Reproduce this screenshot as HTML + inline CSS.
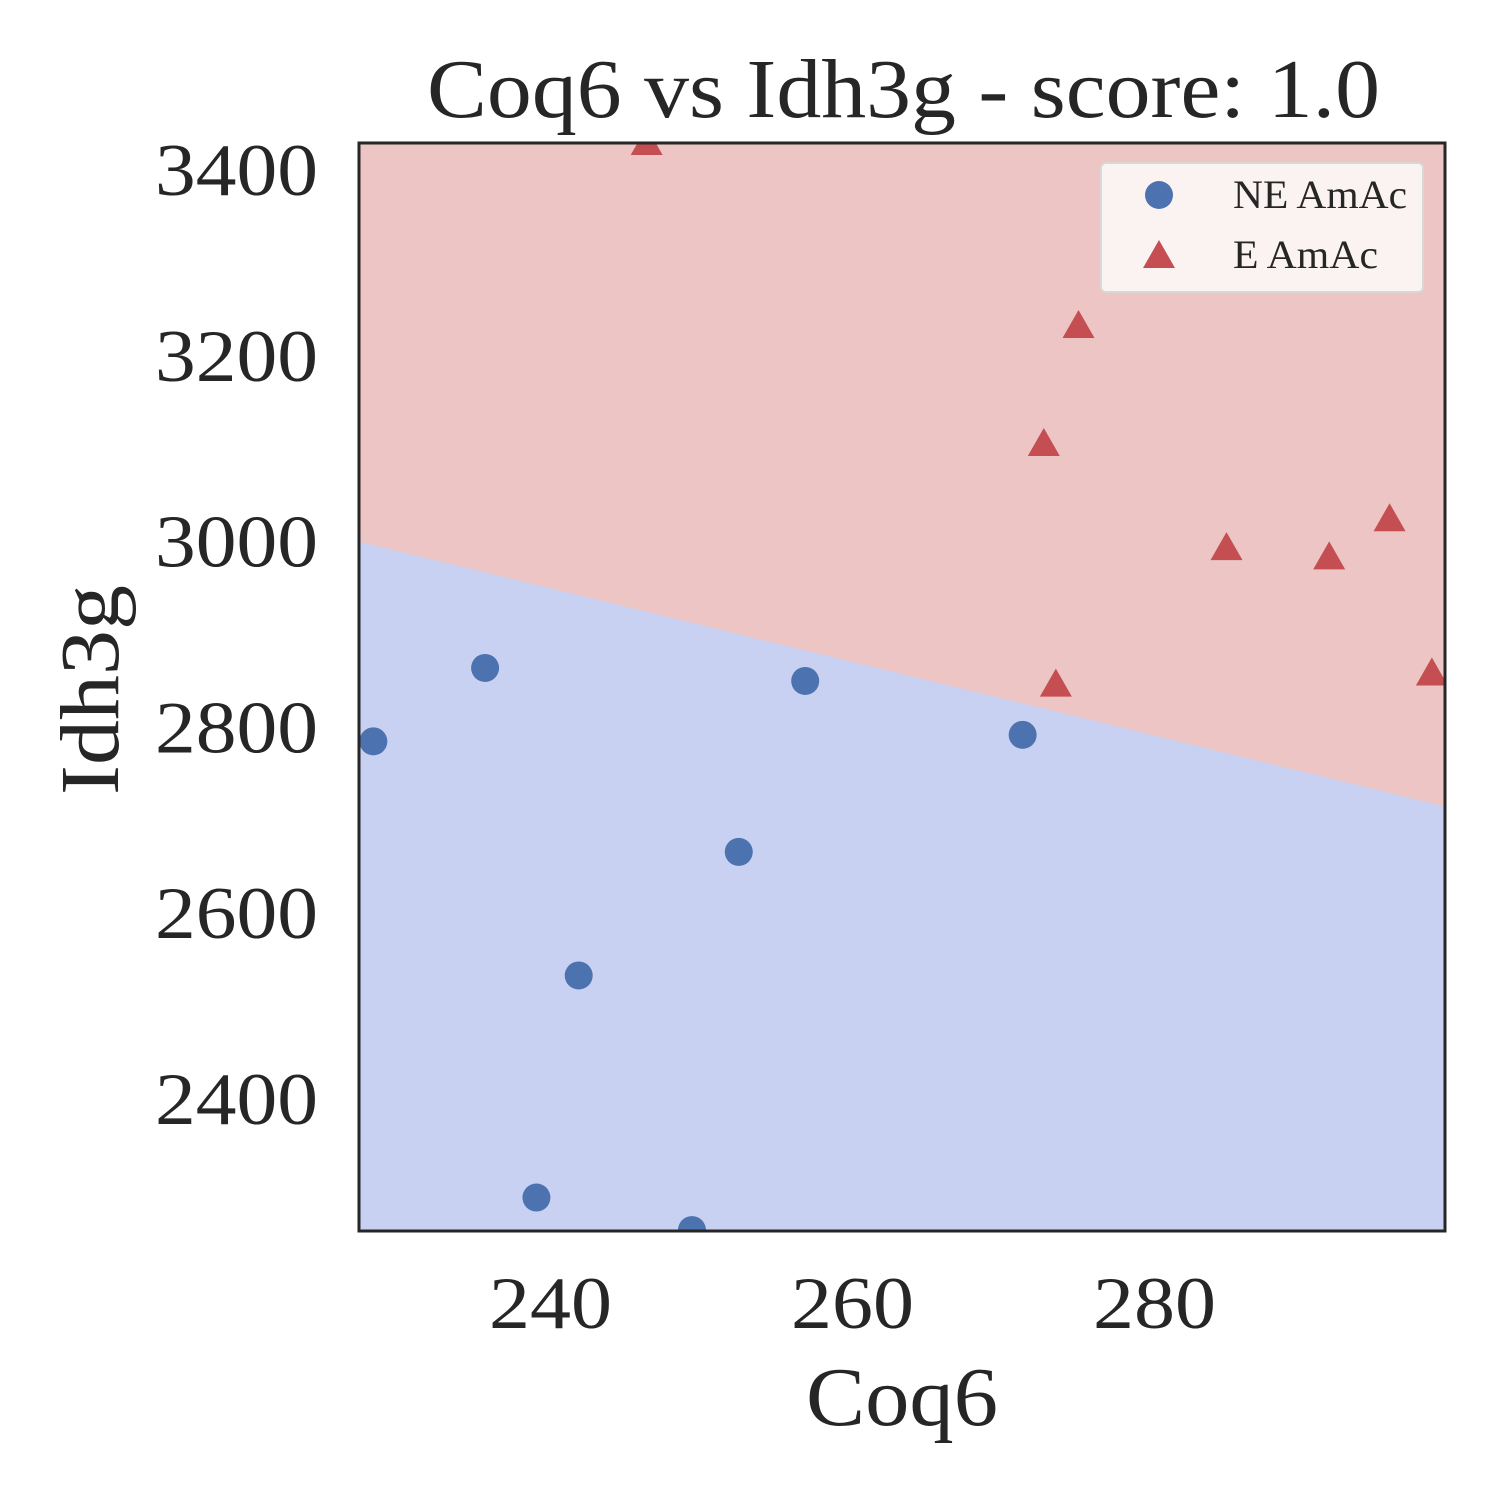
<!DOCTYPE html>
<html><head><meta charset="utf-8"><style>
html,body{margin:0;padding:0;background:#fff;}
svg text{font-family:"Liberation Serif","DejaVu Serif",serif;fill:#262626;}
</style></head><body>
<svg id="chart" width="1500" height="1500" viewBox="0 0 1500 1500" xmlns="http://www.w3.org/2000/svg"></svg>
<script>
const xTicks=[240,260,280];
const yTicks=[2400,2600,2800,3000,3200,3400];
const neX=[228.3,235.7,256.9,271.3,252.5,241.9,239.1,249.4];
const neY=[2785,2864,2850,2792,2666,2533,2294,2259];
const eX=[246.4,275.0,272.7,284.8,291.6,295.6,273.5,298.4];
const eY=[3429,3232,3105,2993,2983,3024,2846,2858];
const boundaryX=[227.35,299.27];
const boundaryY=[3000,2715];
const xDomain=[227.35,299.27], yDomain=[2258,3429];
const L=359,R=1445,T=143,B=1231;
const sx=v=>L+(v-xDomain[0])/(xDomain[1]-xDomain[0])*(R-L);
const sy=v=>B-(v-yDomain[0])/(yDomain[1]-yDomain[0])*(B-T);
const svg=document.getElementById('chart');
const NS='http://www.w3.org/2000/svg';
function mk(tag,attrs,parent){const e=document.createElementNS(NS,tag);for(const k in attrs)e.setAttribute(k,attrs[k]);(parent||svg).appendChild(e);return e;}
const clip=mk('clipPath',{id:'pc'});mk('rect',{x:L,y:T,width:R-L,height:B-T},clip);
const g=mk('g',{'clip-path':'url(#pc)'});
let e=mk('rect',{x:L,y:T,width:R-L,height:B-T,fill:'#ecc5c4'},g);


e=mk('polygon',{points:`${sx(boundaryX[0])},${sy(boundaryY[0])} ${sx(boundaryX[1])},${sy(boundaryY[1])} ${R},${B} ${L},${B}`,fill:'#c8d1f1'},g);


for(let i=0;i<neX.length;i++){
 e=mk('circle',{cx:sx(neX[i]),cy:sy(neY[i]),r:14,fill:'#4c72b0'},g);
 
 
}
for(let i=0;i<eX.length;i++){
 const x=sx(eX[i]),y=sy(eY[i]);
 e=mk('polygon',{points:`${x},${y-16} ${x-16},${y+12} ${x+16},${y+12}`,fill:'#c44e52'},g);
 
 
}
e=mk('rect',{x:L,y:T,width:R-L,height:B-T,fill:'none',stroke:'#262626','stroke-width':3});


xTicks.forEach(t=>{e=mk('text',{x:sx(t)-61,y:1328,'font-size':74,textLength:123,lengthAdjust:'spacingAndGlyphs'});e.textContent=t;
 
 });
yTicks.forEach(t=>{e=mk('text',{x:155,y:sy(t)+25,'font-size':74,textLength:163,lengthAdjust:'spacingAndGlyphs'});e.textContent=t;
 
 });
e=mk('text',{x:806,y:1425,'font-size':84,textLength:192,lengthAdjust:'spacingAndGlyphs'});e.textContent='Coq6';


e=mk('text',{x:0,y:0,'font-size':84,textLength:210,lengthAdjust:'spacingAndGlyphs',transform:'translate(118,795) rotate(-90)'});e.textContent='Idh3g';


e=mk('text',{x:427,y:117,'font-size':84,textLength:953,lengthAdjust:'spacingAndGlyphs'});e.textContent='Coq6 vs Idh3g - score: 1.0';


const lg=mk('g',{});


mk('rect',{x:1101,y:163,width:322,height:129,rx:5,fill:'#fbf3f2',stroke:'#d8d8d8','stroke-width':2},lg);
mk('circle',{cx:1159,cy:195,r:14,fill:'#4c72b0'},lg);
mk('polygon',{points:'1159,240 1143,268 1175,268',fill:'#c44e52'},lg);
e=mk('text',{x:1233,y:208,'font-size':40,textLength:174,lengthAdjust:'spacingAndGlyphs'},lg);e.textContent='NE AmAc';


e=mk('text',{x:1233,y:268,'font-size':40,textLength:145,lengthAdjust:'spacingAndGlyphs'},lg);e.textContent='E AmAc';


</script>
</body></html>
